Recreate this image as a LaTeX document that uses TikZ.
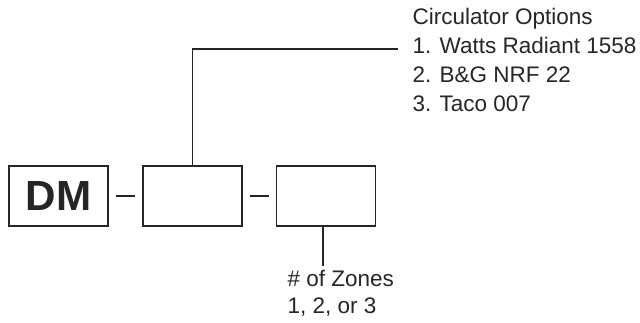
\documentclass[tikz,border=0pt]{standalone}
\usepackage{fontspec}
\setmainfont{Liberation Sans}
\usepackage{tikz}
\def\boxwidth{2.475cm}
\def\boxheight{1.5cm}

\begin{document}
\begin{tikzpicture}[x=0.025cm,y=-0.025cm,line width=0.8pt,draw=black!85]
        \tikzstyle{code box}=[draw,rectangle,minimum width=\boxwidth,minimum height=\boxheight,inner sep=0pt]
        \tikzstyle{label text}=[anchor=base west,inner sep=0pt,text=black!85,font=\fontsize{16}{18}\selectfont]
        \tikzstyle{separator}=[shorten >=0.175cm,shorten <=0.175cm]

        \useasboundingbox (0,0) rectangle (640,323);

        % Draw the model code boxes
        \node[code box,text=black!85,font=\bfseries\fontsize{30}{32}\selectfont] (DM) at (58.5,196) {DM};
        \node[code box] (B-1) at (192.5,196) {};
        \node[code box] (B-2) at (326,196) {};

        % Dashes between the boxes
        \draw[separator] (DM) -- (B-1);
        \draw[separator] (B-1) -- (B-2);

        % Circulator options
        \node[label text] (title) at (412,24) {Circulator Options};
        \foreach \name / \y / \txt in {1/53/{1. Watts Radiant 1558},2/82/{2. B\&G NRF 22},3/111/{3. Taco 007}}
        \node[label text] (O-\name) at (412,\y) {\txt};

        % Number of zones
        \node[label text] (zones) at (287,286) {\# of Zones};
        \node[label text] (choices) at (287,313) {1, 2, or 3};
        \coordinate (Z-end) at (323,266);

        % Leader lines
        \draw[shorten >=0.35cm] (B-1.north) |- ([yshift=-0.1cm]O-1.west);
        \draw (Z-end |- B-2.south) -- (Z-end);
\end{tikzpicture}
\end{document}
